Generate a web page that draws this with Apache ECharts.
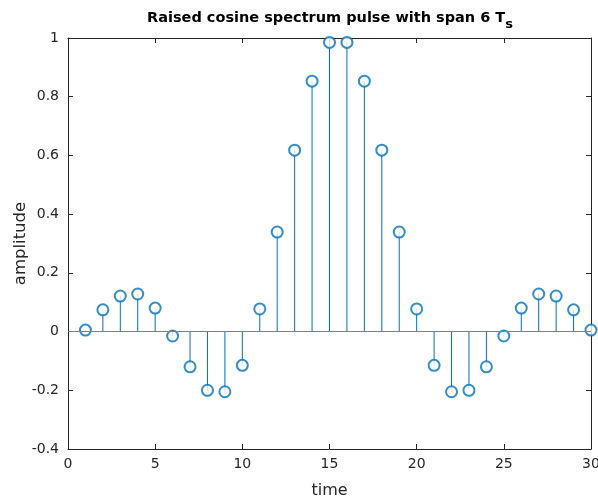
<!DOCTYPE html>
<html>
<head>
<meta charset="utf-8">
<script src="https://cdn.jsdelivr.net/npm/echarts@6/dist/echarts.min.js"></script>
<style>html,body{margin:0;padding:0;background:#fff;overflow:hidden}#c{width:598px;height:502px}</style>
</head>
<body>
<div id="c"></div>
<script>
var timeValues = [1,2,3,4,5,6,7,8,9,10,11,12,13,14,15,16,17,18,19,20,21,22,23,24,25,26,27,28,29,30];
var amplitude = [0.005,0.074,0.121,0.128,0.080,-0.015,-0.120,-0.200,-0.205,-0.115,0.077,0.339,0.618,0.853,0.985,
                 0.985,0.853,0.618,0.339,0.077,-0.115,-0.205,-0.200,-0.120,-0.015,0.080,0.128,0.121,0.074,0.005];
var xTicks = [0,5,10,15,20,25,30];
var yTicks = [-0.4,-0.2,0,0.2,0.4,0.6,0.8,1];

var pts = timeValues.map(function(t,i){return [t, amplitude[i]];});
var stemColor = '#0072BD';
var axisColor = '#262626';
var font = 'DejaVu Sans, Liberation Sans, Arial, sans-serif';

function axisBase(){
  return {
    axisLine:{show:true,onZero:false,lineStyle:{color:axisColor,width:1}},
    axisTick:{show:true,inside:true,length:5,lineStyle:{color:axisColor}},
    splitLine:{show:false}
  };
}

var chart = echarts.init(document.getElementById('c'), null, {renderer:'canvas'});
chart.setOption({
  animation:false,
  title:{
    text:'{a|Raised cosine spectrum pulse with span 6 T}{b|s}',
    left:325, top:3, textAlign:'center',
    textStyle:{
      rich:{
        a:{fontFamily:font,fontSize:14.5,fontWeight:'bold',color:'#000',lineHeight:20},
        b:{fontFamily:font,fontSize:13,fontWeight:'bold',color:'#000',padding:[14,0,0,0],lineHeight:20}
      }
    }
  },
  grid:{left:68,right:7,top:38,bottom:53,containLabel:false,outerBoundsMode:'none'},
  xAxis:[Object.assign(axisBase(),{
    type:'value',min:0,max:30,interval:5,
    name:'time',nameLocation:'middle',nameGap:34,nameMoveOverlap:false,
    nameTextStyle:{fontFamily:font,fontSize:16,color:'#262626'},
    axisLabel:{fontFamily:font,fontSize:14,color:'#262626',margin:8,
      formatter:function(v){return xTicks.indexOf(v)>=0?String(v):'';}}
  }),Object.assign(axisBase(),{
    type:'value',min:0,max:30,interval:5,position:'top',
    axisLabel:{show:false}
  })],
  yAxis:[Object.assign(axisBase(),{
    type:'value',min:-0.4,max:1,interval:0.2,
    name:'amplitude',nameLocation:'middle',nameGap:39,nameMoveOverlap:false,
    nameTextStyle:{fontFamily:font,fontSize:16.5,color:'#262626'},
    axisLabel:{fontFamily:font,fontSize:14,color:'#262626',margin:9,
      formatter:function(v){
        var r = Math.round(v*10)/10;
        for(var i=0;i<yTicks.length;i++){ if(Math.abs(yTicks[i]-r)<1e-9) return String(yTicks[i]); }
        return '';
      }}
  }),Object.assign(axisBase(),{
    type:'value',min:-0.4,max:1,interval:0.2,position:'right',
    axisLabel:{show:false}
  })],
  series:[{
    type:'custom',
    xAxisIndex:0,yAxisIndex:0,
    data:pts,
    renderItem:function(params,api){
      var p0 = api.coord([api.value(0),0]);
      var p1 = api.coord([api.value(0),api.value(1)]);
      return {type:'line',shape:{x1:p0[0],y1:p0[1],x2:p1[0],y2:p1[1]},
              style:{stroke:stemColor,lineWidth:1}};
    },
    markLine:{
      silent:true,symbol:['none','none'],label:{show:false},
      lineStyle:{color:'#808080',width:1,type:'solid'},
      data:[{yAxis:0}]
    },
    z:2
  },{
    type:'scatter',
    xAxisIndex:0,yAxisIndex:0,
    data:pts,
    symbol:'emptyCircle',symbolSize:11,
    itemStyle:{color:stemColor,borderColor:stemColor,borderWidth:1},
    z:3
  }]
});
</script>
</body>
</html>
